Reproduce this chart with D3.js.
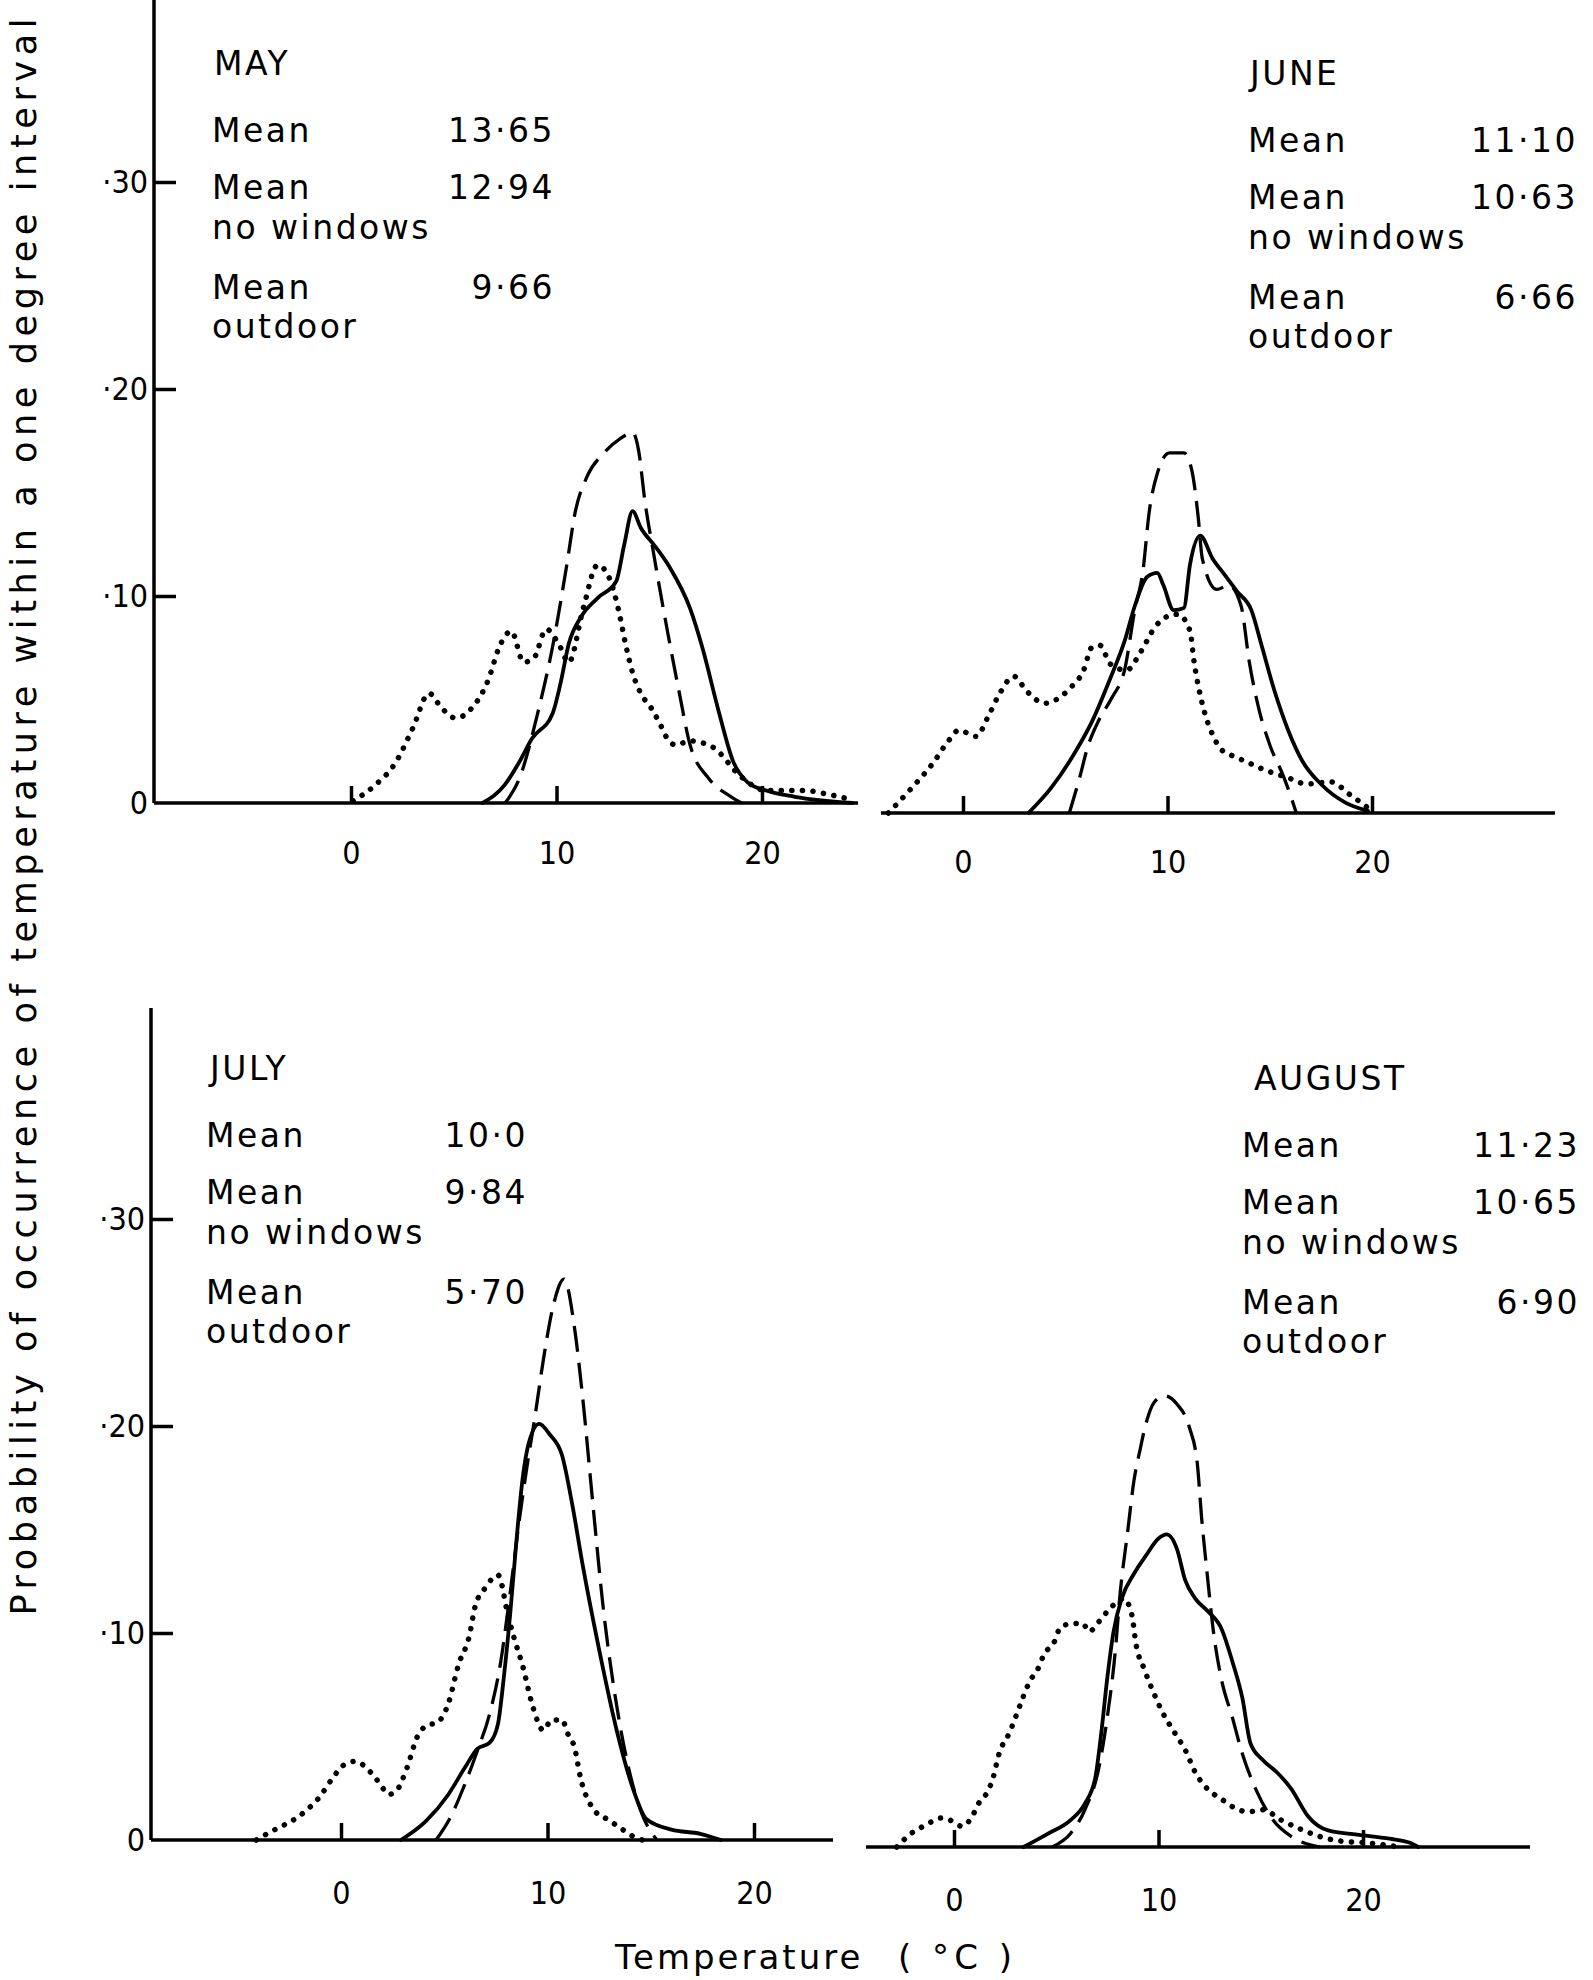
<!DOCTYPE html>
<html lang="en">
<head>
<meta charset="UTF-8">
<title>Probability of occurrence of temperature, May to August</title>
<script src="https://d3js.org/d3.v7.min.js"></script>
<style>
  body { margin: 0; background: #fff; }
  svg text { font-family: "DejaVu Sans", sans-serif; fill: #000; }
  .tick line { stroke: #000; stroke-width: 3.5px; }
  .tick text { font-size: 32px; font-family: "DejaVu Sans Condensed", "DejaVu Sans", sans-serif; font-stretch: condensed; }
</style>
</head>
<body>
<svg id="chart" width="1593" height="1980"></svg>
<script>
// panel headings and means
const months = ["MAY", "JUNE", "JULY", "AUGUST"];
const meanAll = ["13·65", "11·10", "10·0", "11·23"];
const meanNoWindows = ["12·94", "10·63", "9·84", "10·65"];
const meanOutdoor = ["9·66", "6·66", "5·70", "6·90"];

const xTicks = [0, 10, 20];
const yTicks = [0, 0.10, 0.20, 0.30];
const yTickLabels = ["0", "·10", "·20", "·30"];

// [temperature °C, probability]
// solid = mean, dashed = no windows, dotted = outdoor
const maySolid = [[6.4,0],[7.5,0.009],[8.2,0.02],[8.8,0.031],[9.8,0.043],[10.2,0.058],[10.6,0.077],[11.2,0.09],[12.0,0.099],[12.9,0.107],[13.3,0.125],[13.7,0.141],[14.1,0.133],[14.8,0.124],[15.5,0.114],[16.5,0.094],[17.1,0.075],[17.9,0.044],[18.6,0.02],[19.3,0.01],[20.2,0.006],[21.6,0.003],[24.4,0]];
const mayDashed = [[7.5,0],[8.2,0.012],[9.1,0.044],[9.8,0.075],[10.5,0.115],[10.9,0.14],[11.5,0.158],[12.3,0.169],[13.1,0.176],[13.7,0.179],[14.0,0.17],[14.3,0.146],[14.7,0.122],[15.4,0.083],[16.0,0.052],[16.5,0.028],[17.4,0.012],[18.5,0.003],[19.0,0]];
const mayDotted = [[0.1,0.001],[1.1,0.008],[2.2,0.02],[3.0,0.036],[3.8,0.053],[4.4,0.046],[5.1,0.041],[5.8,0.045],[6.7,0.06],[7.2,0.075],[7.8,0.083],[8.4,0.068],[8.9,0.07],[9.5,0.084],[10.1,0.077],[10.6,0.068],[11.3,0.094],[12.0,0.115],[12.6,0.108],[13.0,0.094],[13.4,0.075],[13.7,0.063],[14.1,0.053],[14.6,0.046],[15.0,0.039],[15.4,0.031],[15.8,0.028],[16.5,0.03],[17.6,0.027],[19.0,0.0125],[20.2,0.006],[22.1,0.006],[23.3,0.004],[24.2,0.002]];

const juneSolid = [[3.2,0],[4.3,0.012],[5.4,0.028],[6.3,0.044],[7.2,0.065],[7.9,0.083],[8.4,0.1],[9.0,0.114],[9.5,0.116],[9.8,0.11],[10.3,0.098],[10.8,0.099],[11.1,0.12],[11.6,0.134],[12.2,0.123],[12.8,0.115],[13.4,0.107],[14.1,0.098],[14.6,0.081],[15.2,0.06],[15.9,0.04],[16.6,0.025],[17.5,0.014],[18.7,0.005],[19.8,0.001]];
const juneDashed = [[5.2,0],[5.7,0.017],[6.1,0.032],[6.6,0.044],[7.3,0.056],[7.9,0.069],[8.4,0.098],[8.8,0.117],[9.1,0.145],[9.5,0.164],[10.1,0.174],[10.8,0.174],[11.2,0.165],[11.5,0.143],[11.7,0.123],[12.4,0.108],[13.0,0.11],[13.6,0.1],[14.0,0.073],[14.5,0.049],[15.0,0.033],[15.7,0.017],[16.1,0.006],[16.3,0]];
const juneDotted = [[-3.65,0],[-2.7,0.01],[-1.4,0.025],[-0.7,0.035],[-0.2,0.04],[0.65,0.037],[1.2,0.046],[1.7,0.056],[2.5,0.066],[3.1,0.059],[4.0,0.053],[4.6,0.055],[5.2,0.06],[5.9,0.069],[6.3,0.08],[6.7,0.081],[7.2,0.072],[8.0,0.069],[8.7,0.078],[9.4,0.09],[10.0,0.095],[10.5,0.096],[11.1,0.088],[11.3,0.073],[11.6,0.057],[11.8,0.049],[12.2,0.038],[12.6,0.031],[13.1,0.028],[13.8,0.025],[14.7,0.021],[15.9,0.017],[16.8,0.014],[18.0,0.015],[18.9,0.009],[19.6,0.004],[20.1,0]];

const julySolid = [[2.9,0],[4.1,0.009],[5.2,0.022],[6.0,0.035],[6.6,0.044],[7.2,0.047],[7.6,0.056],[7.9,0.08],[8.2,0.11],[8.5,0.145],[8.8,0.175],[9.1,0.192],[9.6,0.201],[10.1,0.196],[10.7,0.186],[11.2,0.162],[11.7,0.133],[12.5,0.092],[13.4,0.051],[14.1,0.026],[14.8,0.01],[16.0,0.005],[17.4,0.003],[18.4,0]];
const julyDashed = [[4.6,0],[5.3,0.011],[6.0,0.027],[6.6,0.043],[7.2,0.061],[7.7,0.084],[8.2,0.12],[8.6,0.152],[9.0,0.18],[9.4,0.205],[9.8,0.232],[10.3,0.259],[10.8,0.271],[11.3,0.248],[11.7,0.214],[12.2,0.162],[12.7,0.112],[13.3,0.068],[13.9,0.036],[14.6,0.012],[15.3,0]];
const julyDotted = [[-4.1,0],[-3.4,0.004],[-2.8,0.007],[-2.1,0.011],[-1.6,0.015],[-1.1,0.02],[-0.4,0.03],[0.1,0.036],[0.7,0.038],[1.1,0.036],[1.5,0.032],[1.9,0.027],[2.3,0.022],[2.7,0.024],[3.2,0.035],[3.7,0.05],[4.1,0.055],[4.7,0.057],[5.2,0.066],[5.7,0.085],[6.2,0.098],[6.5,0.113],[7.0,0.122],[7.6,0.128],[8.1,0.108],[8.4,0.097],[8.8,0.084],[9.3,0.064],[9.8,0.053],[10.2,0.058],[10.7,0.058],[11.0,0.051],[11.3,0.045],[11.6,0.03],[12.3,0.014],[12.9,0.01],[13.5,0.006],[14.1,0.002],[14.6,0]];

const augSolid = [[3.4,0],[4.6,0.0065],[5.7,0.013],[6.4,0.021],[6.9,0.033],[7.2,0.055],[7.5,0.082],[7.8,0.104],[8.2,0.12],[8.8,0.132],[9.4,0.141],[10.0,0.149],[10.4,0.151],[10.9,0.144],[11.3,0.129],[11.8,0.12],[12.4,0.114],[13.1,0.105],[13.6,0.09],[14.1,0.072],[14.5,0.05],[15.1,0.042],[15.8,0.036],[16.5,0.028],[17.3,0.015],[18.3,0.008],[19.7,0.006],[21.3,0.004],[22.3,0.002],[22.7,0]];
const augDashed = [[4.8,0],[5.7,0.0065],[6.4,0.018],[7.1,0.039],[7.5,0.063],[7.9,0.096],[8.1,0.12],[8.5,0.153],[8.8,0.177],[9.1,0.192],[9.4,0.205],[9.8,0.215],[10.3,0.218],[10.9,0.214],[11.5,0.203],[11.9,0.185],[12.1,0.16],[12.4,0.13],[12.7,0.103],[13.1,0.08],[13.6,0.063],[14.1,0.045],[14.8,0.027],[15.6,0.013],[16.5,0.005],[17.9,0]];
const augDotted = [[-2.8,0],[-2.1,0.0065],[-1.4,0.0105],[-0.6,0.014],[-0.2,0.013],[0.4,0.01],[0.9,0.015],[1.2,0.021],[1.6,0.026],[1.9,0.033],[2.2,0.045],[2.7,0.055],[3.1,0.065],[3.4,0.073],[3.7,0.08],[4.1,0.086],[4.4,0.093],[4.9,0.099],[5.2,0.106],[5.8,0.108],[6.3,0.108],[6.6,0.104],[7.1,0.109],[7.7,0.116],[8.3,0.12],[8.7,0.112],[8.9,0.098],[9.3,0.086],[9.7,0.076],[10.2,0.065],[10.8,0.055],[11.3,0.047],[11.8,0.036],[12.4,0.028],[13.1,0.023],[13.7,0.019],[14.4,0.017],[15.1,0.018],[16.0,0.013],[17.1,0.008],[17.9,0.005],[18.8,0.003],[20.2,0.002],[21.8,0]];

const seriesByMonth = [
    [maySolid, mayDashed, mayDotted],
    [juneSolid, juneDashed, juneDotted],
    [julySolid, julyDashed, julyDotted],
    [augSolid, augDashed, augDotted]
];

// where each panel sits on the page
const panels = [
    {x0: 351, x20: 762, base: 803, line: [154, 858], yAxisTop: 0, labelY: 853, title: [214, 63], textX: 212, valueX: 555},
    {x0: 963, x20: 1372, base: 813, line: [881, 1555], yAxisTop: null, labelY: 862, title: [1250, 73], textX: 1248, valueX: 1578},
    {x0: 341, x20: 754, base: 1840, line: [151, 833], yAxisTop: 1008, labelY: 1893, title: [210, 1068], textX: 206, valueX: 528},
    {x0: 954, x20: 1363, base: 1847, line: [866, 1530], yAxisTop: null, labelY: 1900, title: [1254, 1078], textX: 1242, valueX: 1580}
];
const rowOffsets = [67, 124, 164, 224, 263];

const styles = [
    {width: 3.8, dash: null, cap: "round"},
    {width: 3.3, dash: "26 11", cap: "butt"},
    {width: 5.5, dash: "0.1 10.5", cap: "round"}
];

const svg = d3.select("#chart");

panels.forEach((p, i) => {
    const g = svg.append("g");
    const x = d3.scaleLinear().domain([0, 20]).range([p.x0, p.x20]);
    const y = d3.scaleLinear().domain([0, 0.30]).range([p.base, p.base - 621]);

    // baseline
    g.append("line")
        .attr("x1", p.line[0]).attr("x2", p.line[1])
        .attr("y1", p.base).attr("y2", p.base)
        .attr("stroke", "#000").attr("stroke-width", 3.5);

    // x ticks pointing up, labels below
    const xAxis = g.append("g")
        .attr("transform", `translate(0,${p.base})`)
        .call(d3.axisBottom(x).tickValues(xTicks).tickSize(-17)
            .tickPadding(p.labelY - p.base - 12).tickFormat(d3.format("d")));
    xAxis.select(".domain").remove();

    // y axis only on the left panels
    if (p.yAxisTop !== null) {
        g.append("line")
            .attr("x1", p.line[0]).attr("x2", p.line[0])
            .attr("y1", p.yAxisTop).attr("y2", p.base)
            .attr("stroke", "#000").attr("stroke-width", 3.5);
        const yAxis = g.append("g")
            .attr("transform", `translate(${p.line[0]},0)`)
            .call(d3.axisLeft(y).tickValues(yTicks).tickSize(-22).tickPadding(6)
                .tickFormat((d, k) => yTickLabels[k]));
        yAxis.select(".domain").remove();
        yAxis.selectAll(".tick").filter(d => d === 0).select("line").remove();
    }

    // curves
    const line = d3.line()
        .x(d => x(d[0]))
        .y(d => y(d[1]))
        .curve(d3.curveMonotoneX);
    seriesByMonth[i].forEach((s, k) => {
        g.append("path")
            .datum(s)
            .attr("d", line)
            .attr("fill", "none")
            .attr("stroke", "#000")
            .attr("stroke-width", styles[k].width)
            .attr("stroke-linecap", styles[k].cap)
            .attr("stroke-linejoin", "round")
            .attr("stroke-dasharray", styles[k].dash);
    });

    // heading and means
    const txt = g.append("g").style("font-size", "33px").style("letter-spacing", "2.5px");
    txt.append("text").attr("x", p.title[0]).attr("y", p.title[1]).attr("dy", "0.36em").text(months[i]);
    const rows = ["Mean", "Mean", "no windows", "Mean", "outdoor"];
    rows.forEach((r, k) => {
        txt.append("text").attr("x", p.textX).attr("y", p.title[1] + rowOffsets[k])
            .attr("dy", "0.36em").text(r);
    });
    const vals = [meanAll[i], meanNoWindows[i], meanOutdoor[i]];
    [0, 1, 3].forEach((k, j) => {
        txt.append("text").attr("x", p.valueX).attr("y", p.title[1] + rowOffsets[k])
            .attr("dy", "0.36em").attr("text-anchor", "end").text(vals[j]);
    });
});

// axis titles
svg.append("text")
    .attr("transform", "translate(36,817) rotate(-90)")
    .attr("text-anchor", "middle")
    .attr("textLength", 1597)
    .attr("lengthAdjust", "spacing")
    .style("font-size", "35px")
    .text("Probability of occurrence of temperature within a one degree interval");

svg.append("text")
    .attr("x", 615).attr("y", 1957).attr("dy", "0.36em")
    .style("font-size", "34px").style("letter-spacing", "3px")
    .text("Temperature");
svg.append("text")
    .attr("x", 898).attr("y", 1957).attr("dy", "0.36em")
    .attr("textLength", 114).attr("lengthAdjust", "spacing")
    .style("font-size", "34px")
    .text("( °C )");
</script>
</body>
</html>
